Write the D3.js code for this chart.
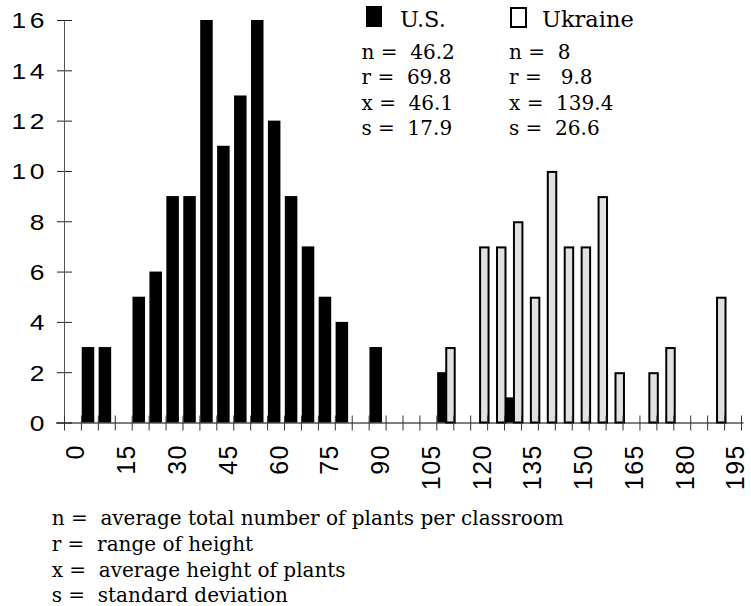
<!DOCTYPE html>
<html>
<head>
<meta charset="utf-8">
<script src="https://cdn.jsdelivr.net/npm/d3@7"></script>
<style>
html, body { margin: 0; padding: 0; background: #fff; }
svg { display: block; }
text.pre { white-space: pre; }
</style>
</head>
<body>
<svg id="chart" width="751" height="606"></svg>
<script>
// ---------------- DATA ----------------
const categories = [0, 5, 10, 15, 20, 25, 30, 35, 40, 45, 50, 55, 60, 65, 70, 75, 80, 85, 90, 95,
  100, 105, 110, 115, 120, 125, 130, 135, 140, 145, 150, 155, 160, 165, 170, 175, 180, 185, 190, 195];
const usCounts = [0, 3, 3, 0, 5, 6, 9, 9, 16, 11, 13, 16, 12, 9, 7, 5, 4, 0, 3, 0,
  0, 0, 2, 0, 0, 0, 1, 0, 0, 0, 0, 0, 0, 0, 0, 0, 0, 0, 0, 0];
const ukraineCounts = [0, 0, 0, 0, 0, 0, 0, 0, 0, 0, 0, 0, 0, 0, 0, 0, 0, 0, 0, 0,
  0, 0, 3, 0, 7, 7, 8, 5, 10, 7, 7, 9, 2, 0, 2, 3, 0, 0, 5, 0];
const xTickLabels = [0, 15, 30, 45, 60, 75, 90, 105, 120, 135, 150, 165, 180, 195];
const yTickValues = [0, 2, 4, 6, 8, 10, 12, 14, 16];
const seriesNames = ["U.S.", "Ukraine"];
const usStats = ["n =  46.2", "r =  69.8", "x =  46.1", "s =  17.9"];
const ukraineStats = ["n =  8", "r =   9.8", "x =  139.4", "s =  26.6"];
const footnotes = [
  "n =  average total number of plants per classroom",
  "r =  range of height",
  "x =  average height of plants",
  "s =  standard deviation"
];

// ---------------- LAYOUT ----------------
const svg = d3.select("#chart");
const plot = { left: 64.5, right: 741.5, top: 20, bottom: 422.5 };
const sans = "'Liberation Sans', Arial, sans-serif";
const serif = "'DejaVu Serif', serif";

const x = d3.scaleBand().domain(categories).range([plot.left, plot.right]).padding(0);
const y = d3.scaleLinear().domain([0, 16]).range([plot.bottom, plot.top]);
const bw = x.bandwidth();

const usW = bw * 0.74;
const uaOff = bw * 0.555, uaW = bw * 0.5;

// US bars (drawn first)
svg.append("g").selectAll("rect")
  .data(categories.map((c, i) => ({ c, v: usCounts[i] })).filter(d => d.v > 0))
  .join("rect")
  .attr("x", d => x(d.c) + 0.3)
  .attr("y", d => y(d.v))
  .attr("width", usW)
  .attr("height", d => y(0) - y(d.v))
  .attr("fill", "#000");

// Ukraine bars (light grey with black outline)
svg.append("g").selectAll("rect")
  .data(categories.map((c, i) => ({ c, v: ukraineCounts[i] })).filter(d => d.v > 0))
  .join("rect")
  .attr("x", d => x(d.c) + uaOff)
  .attr("y", d => y(d.v) + 1)
  .attr("width", uaW)
  .attr("height", d => y(0) - y(d.v) - 1)
  .attr("fill", "#e1e1e1")
  .attr("stroke", "#000")
  .attr("stroke-width", 2);

// Y axis
const yAxisG = svg.append("g").attr("transform", `translate(${plot.left},0)`)
  .call(d3.axisLeft(y).tickValues(yTickValues).tickSizeInner(7.5).tickSizeOuter(0).tickPadding(0));
yAxisG.select(".domain").remove();
yAxisG.selectAll(".tick line").attr("x1", 7.5).attr("stroke", "#222");
yAxisG.append("line").attr("x1", 0).attr("x2", 0)
  .attr("y1", y(16)).attr("y2", y(0)).attr("stroke", "#555");
yAxisG.selectAll(".tick text")
  .attr("x", -13.75)
  .attr("dy", "0.36em")
  .attr("transform", "scale(1.2,1)")
  .attr("fill", "#000")
  .style("font-family", sans)
  .style("font-size", "22px")
  .style("letter-spacing", "3px");

// X axis
const xAxisG = svg.append("g").attr("transform", `translate(0,${plot.bottom})`)
  .call(d3.axisBottom(x).tickValues(xTickLabels).tickSize(0).tickPadding(0));
xAxisG.select(".domain").remove();
xAxisG.selectAll(".tick line").remove();
xAxisG.append("line").attr("x1", 56).attr("x2", 743.5)
  .attr("y1", 0.5).attr("y2", 0.5).attr("stroke", "#000");
const tickXs = categories.map(c => x(c)).concat([x.range()[1]]);
xAxisG.append("g").selectAll("line")
  .data(tickXs)
  .join("line")
  .attr("x1", d => d).attr("x2", d => d)
  .attr("y1", -7).attr("y2", 8)
  .attr("stroke", "#333");
xAxisG.selectAll(".tick text")
  .attr("transform", "rotate(-90)")
  .attr("x", -21.5)
  .attr("y", 0)
  .attr("dy", "0.458em")
  .attr("text-anchor", "end")
  .attr("fill", "#000")
  .style("font-family", sans)
  .style("font-size", "25px")
  .style("letter-spacing", "1.5px");

// Legend
const legend = svg.append("g");
legend.append("rect").attr("x", 366).attr("y", 6).attr("width", 16).attr("height", 21).attr("fill", "#000");
legend.append("rect").attr("x", 511).attr("y", 8).attr("width", 15).attr("height", 19)
  .attr("fill", "#fff").attr("stroke", "#000").attr("stroke-width", 2);
const legendX = [400, 542];
legend.selectAll("text.leg")
  .data(seriesNames)
  .join("text")
  .attr("class", "leg")
  .attr("x", (d, i) => legendX[i])
  .attr("y", 27)
  .style("font-family", serif)
  .style("font-size", "22.5px")
  .text(d => d);

// Stats blocks
const statBaselines = [58.5, 84, 109.5, 135];
function statBlock(arr, x0) {
  svg.append("g").selectAll("text")
    .data(arr)
    .join("text")
    .attr("class", "pre")
    .attr("x", x0)
    .attr("y", (d, i) => statBaselines[i])
    .style("font-family", serif)
    .style("font-size", "20px")
    .text(d => d);
}
statBlock(usStats, 361.5);
statBlock(ukraineStats, 509);

// Footnotes
const footBaselines = [525, 550.5, 576.5, 601.5];
svg.append("g").selectAll("text")
  .data(footnotes)
  .join("text")
  .attr("class", "pre")
  .attr("x", 51.7)
  .attr("y", (d, i) => footBaselines[i])
  .style("font-family", serif)
  .style("font-size", "20px")
  .text(d => d);
</script>
</body>
</html>
